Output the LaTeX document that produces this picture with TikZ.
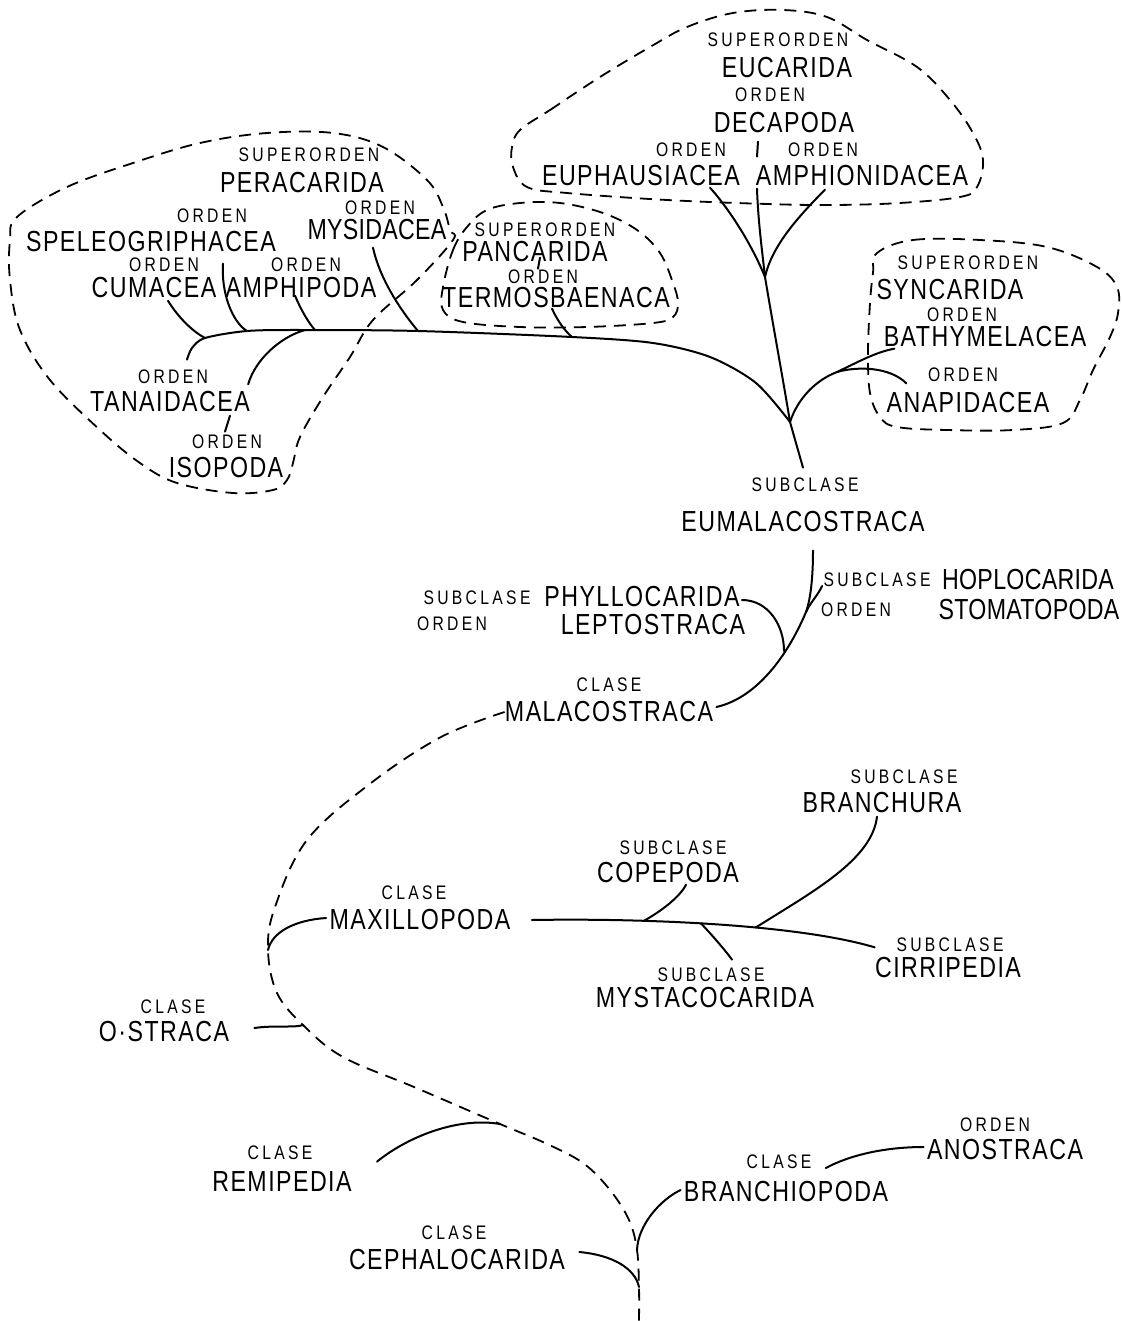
\documentclass[tikz,border=0pt]{standalone}
\usepackage{fontspec}
\setmainfont{Liberation Sans}
\newfontfamily\rankfont{Liberation Sans}[FakeStretch=0.8,LetterSpace=17]
\newfontfamily\taxfont{Liberation Sans}[FakeStretch=0.8,LetterSpace=5]
\newfontfamily\taxtightfont{Liberation Sans}[FakeStretch=0.8,LetterSpace=1]
\usetikzlibrary{calc}

\tikzset{
  rank/.style={inner sep=0pt,font=\rankfont\fontsize{9.8}{10}\selectfont},
  taxon/.style={inner sep=0pt,font=\taxfont\fontsize{14.5}{15}\selectfont},
  tight/.style={font=\taxtightfont\fontsize{14.5}{15}\selectfont},
  branch/.style={line width=1pt,line cap=round},
  grouping/.style={line width=0.9pt,dash pattern=on 6pt off 4pt},
}

\begin{document}
\begin{tikzpicture}[x=0.5pt,y=-0.5pt]
\useasboundingbox (0,0) rectangle (1121,1321);

% superorden Eucarida
\node[rank]  (eucSup)  at (778,40)  {SUPERORDEN};
\node[taxon] (eucName) at (787,68)  {EUCARIDA};
\node[rank]  (decOrd)  at (770,95)  {ORDEN};
\node[taxon] (deca)    at (784,123) {DECAPODA};
\node[rank]  (euphOrd) at (691,150) {ORDEN};
\node[rank]  (amphOrd) at (823,150) {ORDEN};
\node[taxon] (euph)    at (641,176) {EUPHAUSIACEA};
\node[taxon] (amphi)   at (862,176) {AMPHIONIDACEA};

% superorden Pancarida
\node[rank]  (panSup)  at (545,230) {SUPERORDEN};
\node[taxon] (pan)     at (535,252) {PANCARIDA};
\node[rank]  (termOrd) at (543,277) {ORDEN};
\node[taxon] (term)    at (556,298) {TERMOSBAENACA};

% superorden Peracarida
\node[rank]  (perSup)  at (309,155) {SUPERORDEN};
\node[taxon] (per)     at (302,183) {PERACARIDA};
\node[rank]  (speOrd)  at (212,216) {ORDEN};
\node[taxon] (spe)     at (151,242) {SPELEOGRIPHACEA};
\node[rank]  (mysOrd)  at (380,208) {ORDEN};
\node[taxon,tight] (mys) at (377,230) {MYSIDACEA};
\node[rank]  (cumOrd)  at (164,265) {ORDEN};
\node[taxon] (cum)     at (154,288) {CUMACEA};
\node[rank]  (ampOrd)  at (306,265) {ORDEN};
\node[taxon] (amp)     at (301,288) {AMPHIPODA};
\node[rank]  (tanOrd)  at (173,377) {ORDEN};
\node[taxon] (tan)     at (170,402) {TANAIDACEA};
\node[rank]  (isoOrd)  at (227,442) {ORDEN};
\node[taxon] (iso)     at (226,468) {ISOPODA};

% superorden Syncarida
\node[rank]  (synSup)  at (968,263) {SUPERORDEN};
\node[taxon] (syn)     at (950,290) {SYNCARIDA};
\node[rank]  (batOrd)  at (962,315) {ORDEN};
\node[taxon] (bat)     at (985,337) {BATHYMELACEA};
\node[rank]  (anaOrd)  at (963,375) {ORDEN};
\node[taxon] (ana)     at (968,403) {ANAPIDACEA};

% clase Malacostraca
\node[rank]  (eumSub)  at (805,485)  {SUBCLASE};
\node[taxon] (eum)     at (803,522)  {EUMALACOSTRACA};
\node[rank]  (phySub)  at (477,598)  {SUBCLASE};
\node[taxon] (phy)     at (642,597)  {PHYLLOCARIDA};
\node[rank]  (lepOrd)  at (452,624)  {ORDEN};
\node[taxon] (lep)     at (653,625)  {LEPTOSTRACA};
\node[rank]  (hopSub)  at (877,580)  {SUBCLASE};
\node[taxon,tight] (hop) at (1028,580) {HOPLOCARIDA};
\node[rank]  (stoOrd)  at (856,610)  {ORDEN};
\node[taxon,tight] (sto) at (1029,610) {STOMATOPODA};
\node[rank]  (malCl)   at (609,685)  {CLASE};
\node[taxon] (mal)     at (609,712)  {MALACOSTRACA};

% clase Maxillopoda y el resto
\node[rank]  (braSub)  at (904,777)  {SUBCLASE};
\node[taxon] (bra)     at (882,803)  {BRANCHURA};
\node[rank]  (copSub)  at (673,848)  {SUBCLASE};
\node[taxon] (cop)     at (668,873)  {COPEPODA};
\node[rank]  (maxCl)   at (414,893)  {CLASE};
\node[taxon] (maxi)    at (420,920)  {MAXILLOPODA};
\node[rank]  (cirSub)  at (950,945)  {SUBCLASE};
\node[taxon] (cir)     at (948,968)  {CIRRIPEDIA};
\node[rank]  (mystSub) at (711,975)  {SUBCLASE};
\node[taxon] (myst)    at (705,998)  {MYSTACOCARIDA};
\node[rank]  (ostCl)   at (173,1007) {CLASE};
\node[taxon] (ostr)    at (164,1032) {O·STRACA};
\node[rank]  (remCl)   at (280,1153) {CLASE};
\node[taxon] (rem)     at (282,1182) {REMIPEDIA};
\node[rank]  (cepCl)   at (454,1233) {CLASE};
\node[taxon] (cep)     at (457,1260) {CEPHALOCARIDA};
\node[rank]  (brcCl)   at (779,1162) {CLASE};
\node[taxon] (brc)     at (786,1192) {BRANCHIOPODA};
\node[rank]  (anoOrd)  at (995,1125) {ORDEN};
\node[taxon] (ano)     at (1005,1150) {ANOSTRACA};

% grupos
\draw[grouping] plot[smooth cycle,tension=0.6] coordinates {(520,130) (550,110) (600,77) (650,47) (687,27) (733,13) (783,10) (827,17) (867,40) (917,67) (950,100) (973,133) (983,160) (977,187) (960,197) (900,203) (833,205) (767,204) (667,200) (567,193) (527,187) (513,167) (512,147)};
\draw[grouping] plot[smooth cycle,tension=0.6] coordinates {(443,287) (453,250) (467,227) (487,210) (520,203) (560,203) (603,213) (637,230) (660,253) (673,283) (678,303) (673,317) (653,323) (587,327) (520,327) (463,322) (443,310)};
\draw[grouping] plot[smooth cycle,tension=0.6] coordinates {(17,217) (67,187) (133,163) (200,143) (267,133) (333,133) (383,147) (427,180) (443,207) (450,230) (453,240) (417,280) (373,320) (350,357) (323,397) (300,437) (293,463) (287,480) (273,490) (233,493) (177,483) (140,463) (100,430) (50,380) (20,330) (10,280) (10,240)};
\draw[grouping] plot[smooth cycle,tension=0.6] coordinates {(877,253) (913,240) (980,240) (1047,247) (1097,267) (1117,287) (1118,313) (1110,337) (1093,370) (1080,400) (1063,423) (1013,430) (947,430) (897,427) (880,417) (870,393) (868,353) (870,303) (873,273)};

% ramas
\coordinate (jEuc) at (765,277);
\coordinate (jEum) at (790,422);
\coordinate (jSyn) at (837,372);
\coordinate (jCum) at (205,338);
\coordinate (jSpe) at (247,331);
\coordinate (jIso) at (305,330);
\coordinate (jAmp) at (315,330);
\coordinate (jMys) at (418,331);
\coordinate (jTer) at (572,337);
\coordinate (jHop) at (806,612);
\coordinate (jPhy) at (784,651);

\draw[branch] ($(deca.south)+(-26,8)$) -- ($(deca.south)+(-27,23)$);
\draw[branch] ($(euph.south)+(69,1)$) .. controls (730,210) and (752,245) .. (jEuc);
\draw[branch] ($(amphi.south)+(-105,2)$) .. controls (758,220) and (762,250) .. (jEuc);
\draw[branch] ($(amphi.south)+(-37,3)$) .. controls (800,215) and (772,245) .. (jEuc);
\draw[branch] (jEuc) .. controls (773,325) and (784,385) .. (jEum) -- ($(eumSub.north)+(-2,-10)$);

\draw[branch] plot[smooth,tension=0.5] coordinates {($(tanOrd.north)+(14,-10)$) (192,348) (jCum) (jSpe) (jIso) (jMys) (jTer) (653,343) (710,357) (756,383) (jEum)};
\draw[branch] ($(cum.south)+(14,2)$) .. controls (176,314) and (190,330) .. (jCum);
\draw[branch] ($(spe.south)+(72,11)$) .. controls (221,292) and (232,322) .. (jSpe);
\draw[branch] ($(amp.south)+(-6,-3)$) .. controls (301,310) and (308,322) .. (jAmp);
\draw[branch] (jIso) .. controls (280,337) and (255,360) .. ($(tan.north east)+(-2,-7)$);
\draw[branch] ($(tan.south)+(60,3)$) -- ($(isoOrd.north)+(-2,-3)$);
\draw[branch] ($(mys.south)+(-4,7)$) .. controls (380,280) and (402,312) .. (jMys);
\draw[branch] ($(pan.south)+(5,-5)$) -- ($(termOrd.north)+(-5,-1)$);
\draw[branch] ($(term.south)+(-4,0)$) .. controls (558,322) and (566,332) .. (jTer);

\draw[branch] (jEum) .. controls (798,398) and (816,380) .. (jSyn) .. controls (858,362) and (876,352) .. ($(bat.south west)+(11,1)$);
\draw[branch] (jSyn) .. controls (858,366) and (890,367) .. ($(ana.north west)+(20,-9)$);

\draw[branch] ($(eum.south)+(10,18)$) .. controls (813,575) and (811,598) .. (jHop);
\draw[branch] ($(hopSub.west)+(-1,6)$) .. controls (818,595) and (810,603) .. (jHop) .. controls (790,650) and (760,697) .. ($(mal.east)+(3,-5)$);
\draw[branch] ($(phy.east)+(2,3)$) .. controls (768,600) and (784,625) .. (jPhy);

\draw[branch] ($(maxi.east)+(21,0)$) .. controls (650,918) and (800,925) .. ($(cir.north west)+(0,-10)$)
  coordinate[pos=0.3] (jCop) coordinate[pos=0.45] (jMyst) coordinate[pos=0.6] (jBra);
\draw[branch] ($(cop.south)+(18,1)$) .. controls (680,897) and (660,912) .. (jCop);
\draw[branch] ($(bra.south)+(-5,3)$) .. controls (872,860) and (812,892) .. (jBra);
\draw[branch] (jMyst) .. controls (712,935) and (725,950) .. ($(mystSub.north)+(21,-8)$);

% tronco
\coordinate (jMax) at (268,950);
\coordinate (jOst) at (303,1025);
\coordinate (jRem) at (500,1124);
\coordinate (jBrc) at (637,1250);
\coordinate (jCep) at (639,1287);
\draw[grouping] plot[smooth,tension=0.6] coordinates {(mal.west) (441,737) (371,783) (307,840) (275,907) (jMax) (277,993) (jOst) (343,1057) (414,1087) (jRem) (545,1143) (583,1163) (610,1190) (629,1220) (jBrc) (jCep) (639,1321)};

\draw[branch] ($(maxi.west)+(-3,-2)$) .. controls (295,920) and (272,932) .. (jMax);
\draw[branch] ($(ostr.east)+(25,-4)$) .. controls (275,1025) and (295,1028) .. (jOst);
\draw[branch] ($(rem.north east)+(25,-10)$) .. controls (410,1135) and (460,1117) .. (jRem);
\draw[branch] ($(cep.east)+(14,-8)$) .. controls (612,1255) and (635,1268) .. (jCep);
\draw[branch] ($(brc.west)+(-3,-2)$) .. controls (660,1200) and (638,1225) .. (jBrc);
\draw[branch] ($(brcCl.east)+(14,6)$) .. controls (850,1155) and (885,1147) .. ($(ano.west)+(-3,-3)$);
\end{tikzpicture}
\end{document}
